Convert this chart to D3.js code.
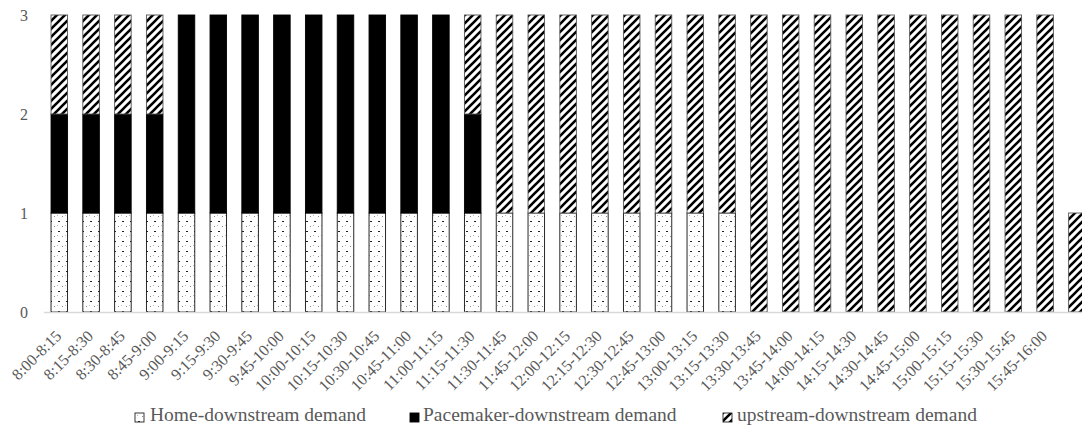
<!DOCTYPE html>
<html>
<head>
<meta charset="utf-8">
<script src="https://cdn.jsdelivr.net/npm/d3@7/dist/d3.min.js"></script>
<style>
  html, body { margin: 0; padding: 0; background: #fff; }
  svg { display: block; }
  text { font-family: "Liberation Serif", "Times New Roman", serif; fill: #595959; }
</style>
</head>
<body>
<svg id="chart" width="1082" height="429"></svg>
<script>
// Time slots along the x axis (the final slot carries no label)
const categories = [
  "8:00-8:15", "8:15-8:30", "8:30-8:45", "8:45-9:00", "9:00-9:15", "9:15-9:30",
  "9:30-9:45", "9:45-10:00", "10:00-10:15", "10:15-10:30", "10:30-10:45", "10:45-11:00",
  "11:00-11:15", "11:15-11:30", "11:30-11:45", "11:45-12:00", "12:00-12:15", "12:15-12:30",
  "12:30-12:45", "12:45-13:00", "13:00-13:15", "13:15-13:30", "13:30-13:45", "13:45-14:00",
  "14:00-14:15", "14:15-14:30", "14:30-14:45", "14:45-15:00", "15:00-15:15", "15:15-15:30",
  "15:30-15:45", "15:45-16:00", ""
];

// Demand per slot, by source
const homeDownstream = [
  1, 1, 1, 1, 1, 1, 1, 1, 1, 1, 1, 1, 1, 1, 1, 1, 1, 1, 1, 1, 1, 1,
  0, 0, 0, 0, 0, 0, 0, 0, 0, 0, 0
];
const pacemakerDownstream = [
  1, 1, 1, 1, 2, 2, 2, 2, 2, 2, 2, 2, 2, 1,
  0, 0, 0, 0, 0, 0, 0, 0, 0, 0, 0, 0, 0, 0, 0, 0, 0, 0, 0
];
const upstreamDownstream = [
  1, 1, 1, 1, 0, 0, 0, 0, 0, 0, 0, 0, 0, 1,
  2, 2, 2, 2, 2, 2, 2, 2,
  3, 3, 3, 3, 3, 3, 3, 3, 3, 3, 1
];

const seriesNames = ["Home-downstream demand", "Pacemaker-downstream demand", "upstream-downstream demand"];
const yTicks = [0, 1, 2, 3];

const svg = d3.select("#chart");
const defs = svg.append("defs");

// Sparse dot fill
const dots = defs.append("pattern")
  .attr("id", "dots").attr("patternUnits", "userSpaceOnUse")
  .attr("width", 8).attr("height", 10);
dots.append("rect").attr("width", 8).attr("height", 10).attr("fill", "#fff");
dots.append("rect").attr("x", 2).attr("y", 1).attr("width", 2).attr("height", 1).attr("fill", "#222");
dots.append("rect").attr("x", 6).attr("y", 6).attr("width", 1).attr("height", 1).attr("fill", "#888");
dots.append("rect").attr("x", 1).attr("y", 5).attr("width", 1).attr("height", 1).attr("fill", "#bbb");

// Wide upward diagonal fill
const hatch = defs.append("pattern")
  .attr("id", "hatch").attr("patternUnits", "userSpaceOnUse")
  .attr("width", 8).attr("height", 8);
hatch.append("rect").attr("width", 8).attr("height", 8).attr("fill", "#fff");
hatch.append("path")
  .attr("d", "M-2,2 L2,-2 M0,8 L8,0 M6,10 L10,6")
  .attr("stroke", "#000").attr("stroke-width", 2.6);

const fills = ["url(#dots)", "#000", "url(#hatch)"];
const strokes = ["#111", "#000", "#555"];

const x = d3.scaleBand()
  .domain(categories)
  .range([43.4, 43.4 + 31.8 * categories.length])
  .paddingInner(0.48)
  .paddingOuter(0.24);

const y = d3.scaleLinear().domain([0, 3]).range([312, 15]);

const rows = categories.map((c, i) => ({
  cat: c,
  s0: homeDownstream[i],
  s1: pacemakerDownstream[i],
  s2: upstreamDownstream[i]
}));
const stacked = d3.stack().keys(["s0", "s1", "s2"])(rows);

// Stacked bars
stacked.forEach((layer, li) => {
  svg.append("g")
    .selectAll("rect")
    .data(layer.filter(d => d[1] - d[0] > 0))
    .join("rect")
    .attr("x", d => x(d.data.cat))
    .attr("y", d => y(d[1]))
    .attr("width", x.bandwidth())
    .attr("height", d => y(d[0]) - y(d[1]))
    .attr("fill", fills[li])
    .attr("stroke", strokes[li])
    .attr("stroke-width", 0.9);
});

// Value axis labels
svg.append("g")
  .selectAll("text")
  .data(yTicks)
  .join("text")
  .attr("x", 28)
  .attr("y", d => y(d))
  .attr("dy", "0.35em")
  .attr("text-anchor", "end")
  .attr("font-size", 16)
  .text(d => d);

// Category axis
const xAxis = svg.append("g")
  .attr("transform", "translate(0,312)")
  .call(d3.axisBottom(x).tickSize(0).tickSizeOuter(0));
xAxis.select(".domain").attr("stroke", "#d9d9d9").attr("stroke-width", 1.3);
xAxis.selectAll(".tick text")
  .attr("font-size", 16)
  .attr("font-family", "Liberation Serif, Times New Roman, serif")
  .attr("fill", "#595959")
  .attr("text-anchor", "end")
  .attr("x", 0)
  .attr("y", 0)
  .attr("dy", 0)
  .attr("transform", "translate(3,25) rotate(-45)");

// Legend
const legendItems = [
  { box: 135, text: 150, fill: "url(#dots)", stroke: "#222" },
  { box: 410, text: 423, fill: "#000", stroke: "#000" },
  { box: 723, text: 737, fill: "url(#hatch)", stroke: "#222" }
];
const legend = svg.append("g");
legendItems.forEach((item, i) => {
  legend.append("rect")
    .attr("x", item.box).attr("y", 413)
    .attr("width", 9).attr("height", 9)
    .attr("fill", item.fill).attr("stroke", item.stroke).attr("stroke-width", 0.9);
  legend.append("text")
    .attr("x", item.text).attr("y", 421)
    .attr("font-size", 19.5)
    .text(seriesNames[i]);
});
</script>
</body>
</html>
